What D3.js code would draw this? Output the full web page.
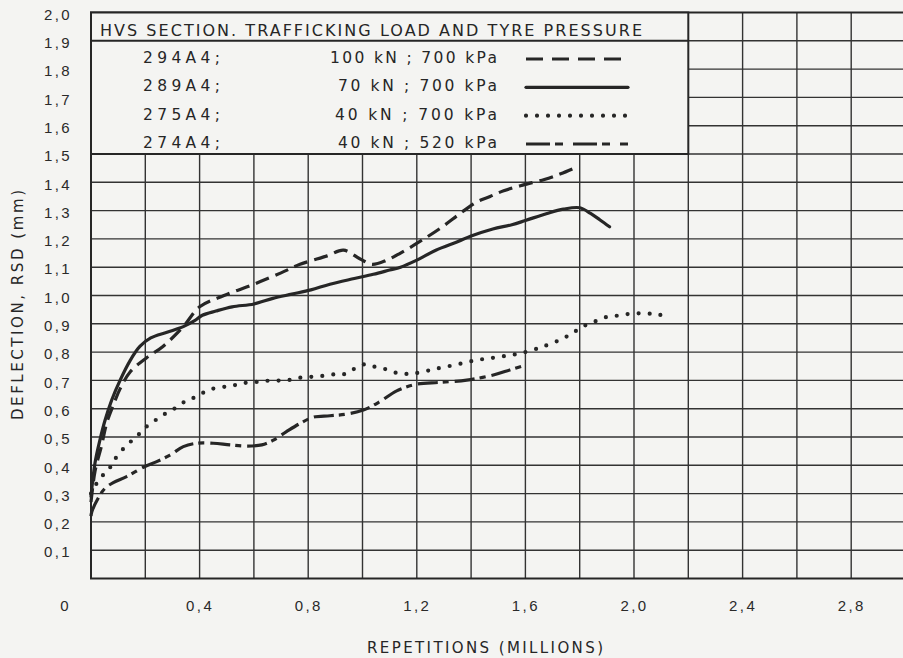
<!DOCTYPE html>
<html>
<head>
<meta charset="utf-8">
<script src="https://cdn.jsdelivr.net/npm/d3@7"></script>
<style>
  body { margin: 0; background: #f4f4f2; }
  svg { display: block; font-family: "DejaVu Sans", sans-serif; }
  .tick text { fill: #2a2a2a; }
</style>
</head>
<body>
<div id="chart"></div>
<script>
// deflection curves: [repetitions (millions), deflection (mm)]
const s294 = [[0,0.27],[0.015,0.38],[0.039,0.47],[0.058,0.55],[0.081,0.61],[0.107,0.67],[0.144,0.73],[0.205,0.78],[0.265,0.82],[0.34,0.89],[0.40,0.96],[0.49,1.0],[0.6,1.04],[0.7,1.08],[0.77,1.11],[0.87,1.14],[0.93,1.16],[0.99,1.13],[1.035,1.11],[1.09,1.125],[1.14,1.15],[1.21,1.19],[1.29,1.24],[1.36,1.29],[1.42,1.33],[1.47,1.35],[1.52,1.37],[1.59,1.39],[1.67,1.41],[1.73,1.43],[1.78,1.45]];
const s289 = [[0,0.29],[0.015,0.41],[0.033,0.49],[0.052,0.56],[0.076,0.63],[0.107,0.70],[0.144,0.77],[0.18,0.82],[0.22,0.85],[0.28,0.87],[0.34,0.89],[0.38,0.91],[0.41,0.93],[0.46,0.945],[0.52,0.96],[0.6,0.97],[0.67,0.99],[0.74,1.005],[0.81,1.02],[0.88,1.04],[0.97,1.06],[1.04,1.075],[1.1,1.09],[1.14,1.1],[1.2,1.125],[1.27,1.16],[1.35,1.19],[1.40,1.21],[1.48,1.235],[1.55,1.25],[1.6,1.265],[1.68,1.29],[1.74,1.305],[1.80,1.31],[1.84,1.29],[1.875,1.267],[1.91,1.243]];
const s275 = [[0,0.3],[0.033,0.354],[0.064,0.383],[0.082,0.413],[0.113,0.452],[0.15,0.487],[0.18,0.513],[0.211,0.542],[0.248,0.566],[0.281,0.587],[0.316,0.605],[0.35,0.628],[0.387,0.642],[0.432,0.666],[0.478,0.676],[0.518,0.68],[0.552,0.69],[0.592,0.692],[0.632,0.698],[0.678,0.699],[0.727,0.701],[0.773,0.71],[0.817,0.713],[0.862,0.717],[0.902,0.722],[0.933,0.722],[0.966,0.739],[1.009,0.757],[1.046,0.748],[1.087,0.739],[1.123,0.727],[1.157,0.723],[1.193,0.725],[1.261,0.739],[1.341,0.755],[1.423,0.772],[1.496,0.782],[1.568,0.793],[1.629,0.808],[1.672,0.822],[1.727,0.843],[1.77,0.865],[1.811,0.89],[1.86,0.91],[1.903,0.925],[1.942,0.929],[1.983,0.935],[2.026,0.937],[2.065,0.935],[2.093,0.931],[2.13,0.937]];
const s274 = [[0,0.22],[0.003,0.236],[0.03,0.29],[0.052,0.319],[0.082,0.339],[0.131,0.36],[0.193,0.393],[0.242,0.413],[0.291,0.436],[0.34,0.466],[0.389,0.478],[0.45,0.478],[0.512,0.472],[0.573,0.468],[0.629,0.472],[0.672,0.489],[0.72,0.519],[0.77,0.548],[0.819,0.57],[0.88,0.575],[0.942,0.581],[1.003,0.595],[1.064,0.625],[1.126,0.663],[1.2,0.687],[1.285,0.693],[1.384,0.701],[1.482,0.719],[1.543,0.737],[1.6,0.754]];

const sections = ["294A4;", "289A4;", "275A4;", "274A4;"];
const loads = ["100 kN ; 700 kPa", "70 kN ; 700 kPa", "40 kN ; 700 kPa", "40 kN ; 520 kPa"];
const legendTitle = "HVS SECTION.  TRAFFICKING LOAD AND TYRE PRESSURE";

const xTicks = [0, 0.4, 0.8, 1.2, 1.6, 2.0, 2.4, 2.8];
const xTickLabels = ["0", "0,4", "0,8", "1,2", "1,6", "2,0", "2,4", "2,8"];
const yTicks = [0.1,0.2,0.3,0.4,0.5,0.6,0.7,0.8,0.9,1.0,1.1,1.2,1.3,1.4,1.5,1.6,1.7,1.8,1.9,2.0];
const yTickLabels = ["0,1","0,2","0,3","0,4","0,5","0,6","0,7","0,8","0,9","1,0","1,1","1,2","1,3","1,4","1,5","1,6","1,7","1,8","1,9","2,0"];
const xGrid = [0.2,0.4,0.6,0.8,1.0,1.2,1.4,1.6,1.8,2.0,2.2,2.4,2.6,2.8];
const yGrid = [0.1,0.2,0.3,0.4,0.5,0.6,0.7,0.8,0.9,1.0,1.1,1.2,1.3,1.4,1.5,1.6,1.7,1.8,1.9];

const width = 903, height = 658;
const ink = "#262626";
const paper = "#f4f4f2";

const svg = d3.select("#chart").append("svg")
  .attr("width", width).attr("height", height);

const x = d3.scaleLinear().domain([0, 3]).range([91, 905.5]);
const y = d3.scaleLinear().domain([0, 2]).range([578.5, 12.5]);

// grid
svg.append("g")
  .selectAll("line.v").data(xGrid).enter().append("line")
  .attr("x1", d => x(d)).attr("x2", d => x(d))
  .attr("y1", y(2)).attr("y2", y(0))
  .attr("stroke", "#333").attr("stroke-width", 1.4);

svg.append("g")
  .selectAll("line.h").data(yGrid).enter().append("line")
  .attr("x1", x(0)).attr("x2", width)
  .attr("y1", d => y(d)).attr("y2", d => y(d))
  .attr("stroke", "#333").attr("stroke-width", 1.4);

// frame: left, bottom, top
svg.append("path")
  .attr("d", `M${width},${y(2)}H${x(0)}V${y(0)}H${width}`)
  .attr("fill", "none").attr("stroke", ink).attr("stroke-width", 2);

// axes (labels only)
const yAxis = d3.axisLeft(y).tickValues(yTicks).tickSize(0).tickPadding(0)
  .tickFormat((d, i) => yTickLabels[i]);
const gy = svg.append("g").attr("transform", "translate(72,0)").call(yAxis);
gy.select(".domain").remove();
gy.selectAll("text").attr("font-size", 15).attr("letter-spacing", 2.4).attr("dy", "0.45em");

const xAxis = d3.axisBottom(x).tickValues(xTicks).tickSize(0).tickPadding(0)
  .tickFormat((d, i) => xTickLabels[i]);
const gx = svg.append("g").attr("transform", `translate(0,${y(0) + 22})`).call(xAxis);
gx.select(".domain").remove();
gx.selectAll("text").attr("font-size", 15).attr("letter-spacing", 2.4)
  .attr("dx", d => (d === 0 ? -26 : 0));

svg.append("text")
  .attr("x", 367).attr("y", 653)
  .attr("font-size", 15).attr("textLength", 236).attr("lengthAdjust", "spacing")
  .attr("fill", ink).text("REPETITIONS  (MILLIONS)");

svg.append("text")
  .attr("transform", "translate(23,420) rotate(-90)")
  .attr("font-size", 15).attr("textLength", 230).attr("lengthAdjust", "spacing")
  .attr("fill", ink).text("DEFLECTION, RSD (mm)");

// curves
const line = d3.line().x(d => x(d[0])).y(d => y(d[1])).curve(d3.curveCatmullRom.alpha(0.5));
const styles = [
  { data: s294, dash: "14 7", width: 3.2, cap: "butt" },
  { data: s289, dash: null, width: 3.2, cap: "round" },
  { data: s275, dash: "0 11", width: 4.2, cap: "round" },
  { data: s274, dash: "20 5 6 6", width: 3.2, cap: "butt" }
];

svg.append("g").selectAll("path").data(styles).enter().append("path")
  .attr("d", d => line(d.data))
  .attr("fill", "none").attr("stroke", ink)
  .attr("stroke-width", d => d.width)
  .attr("stroke-linecap", d => d.cap)
  .attr("stroke-linejoin", "round")
  .attr("stroke-dasharray", d => d.dash);

// legend box
const legend = svg.append("g");
legend.append("rect")
  .attr("x", x(0)).attr("y", y(2))
  .attr("width", x(2.2) - x(0)).attr("height", y(1.5) - y(2))
  .attr("fill", paper).attr("stroke", ink).attr("stroke-width", 2);
legend.append("line")
  .attr("x1", x(0)).attr("x2", x(2.2)).attr("y1", y(1.9)).attr("y2", y(1.9))
  .attr("stroke", ink).attr("stroke-width", 2);
legend.append("text")
  .attr("x", 100).attr("y", 36).attr("font-size", 16)
  .attr("textLength", 542).attr("lengthAdjust", "spacing")
  .attr("fill", ink).text(legendTitle);

const rowY = d3.scalePoint().domain(d3.range(4)).range([57, 142]);
const loadWidths = [167, 159, 162, 159];
const rows = legend.selectAll("g.row").data(styles).enter().append("g");
rows.append("text")
  .attr("x", 143).attr("y", (d, i) => rowY(i) + 6)
  .attr("font-size", 15.5).attr("textLength", 77).attr("lengthAdjust", "spacing")
  .attr("fill", ink).text((d, i) => sections[i]);
rows.append("text")
  .attr("x", (d, i) => 497 - loadWidths[i]).attr("y", (d, i) => rowY(i) + 6)
  .attr("font-size", 15.5).attr("textLength", (d, i) => loadWidths[i]).attr("lengthAdjust", "spacing")
  .attr("fill", ink).text((d, i) => loads[i]);
rows.append("line")
  .attr("x1", 526).attr("x2", 628)
  .attr("y1", (d, i) => rowY(i) + 2).attr("y2", (d, i) => rowY(i) + 2)
  .attr("stroke", ink)
  .attr("stroke-width", d => d.width)
  .attr("stroke-linecap", d => d.cap)
  .attr("stroke-dasharray", (d, i) => (i === 0 ? "17 9" : i === 3 ? "24 5 8 10" : d.dash));
</script>
</body>
</html>
